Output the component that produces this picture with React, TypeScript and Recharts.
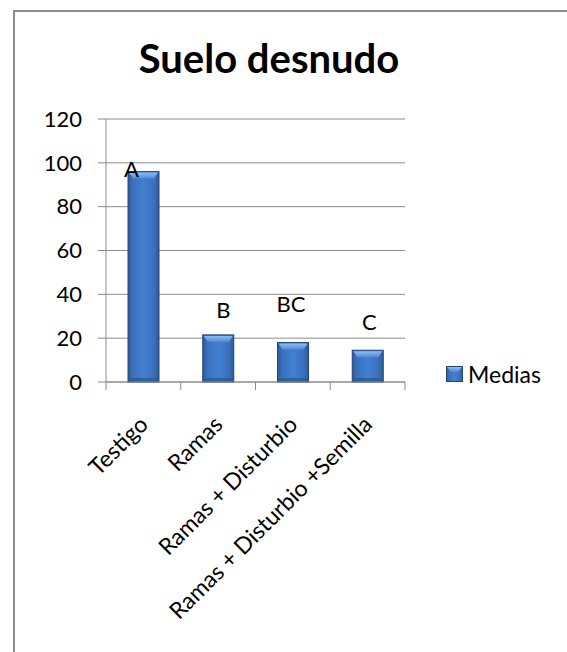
import { BarChart, Bar, XAxis, YAxis, CartesianGrid, LabelList } from "recharts"

const tratamientos = ["Testigo", "Ramas", "Ramas + Disturbio", "Ramas + Disturbio +Semilla"]
const medias = [96, 21.5, 18, 14.5]
const letras = ["A", "B", "BC", "C"]
const yTicks = [0, 20, 40, 60, 80, 100, 120]

const W = 567
const H = 652
const MARGIN = { top: 119, right: 162, bottom: 70, left: 0 }
const Y_AXIS_W = 106
const PLOT_W = W - MARGIN.left - MARGIN.right - Y_AXIS_W
const FONT = "Lato, 'Open Sans', sans-serif"
const GRAY = "#8c8c8c"

// the letters sit in loose text boxes in the original, not exactly on the bars
const LETTER_OFFSETS = [
  { dx: -12, dy: 5 },
  { dx: 5, dy: -17 },
  { dx: -2, dy: -31 },
  { dx: 1.5, dy: -20 },
]

const data = tratamientos.map((name, i) => ({
  name,
  media: medias[i],
  letra: letras[i],
}))

function BevelBar(props: any) {
  const { x, y, width, height } = props
  if (!height || height <= 0) return null
  const b = Math.min(6, height / 3)
  return (
    <g>
      <rect x={x} y={y} width={width} height={height} fill="url(#barBody)" stroke="#23467a" strokeWidth={1} />
      <polygon
        points={`${x + 1},${y + 1} ${x + width - 1},${y + 1} ${x + width - 5},${y + b + 1} ${x + 5},${y + b + 1}`}
        fill="url(#barTop)"
      />
      <rect x={x + 1} y={y + height - 4} width={width - 2} height={3} fill="#2e5a93" opacity={0.8} />
    </g>
  )
}

function CategoryTick(props: any) {
  const { x, y, payload, index } = props
  const half = PLOT_W / tratamientos.length / 2
  const tx = x + 6
  const ty = y + 44
  return (
    <g>
      <line x1={x - half} y1={y} x2={x - half} y2={y + 8} stroke={GRAY} />
      {index === tratamientos.length - 1 && (
        <line x1={x + half} y1={y} x2={x + half} y2={y + 8} stroke={GRAY} />
      )}
      <text
        x={tx}
        y={ty}
        transform={`rotate(-45 ${tx} ${ty})`}
        textAnchor="end"
        fontSize={23}
        fontFamily={FONT}
        fill="#000"
      >
        {payload.value}
      </text>
    </g>
  )
}

function LetterLabel(props: any) {
  const { x, y, width, index, value } = props
  const off = LETTER_OFFSETS[index] || { dx: 0, dy: -6 }
  return (
    <text
      x={x + width / 2 + off.dx}
      y={y + off.dy}
      textAnchor="middle"
      fontSize={22}
      fontFamily={FONT}
      fill="#000"
    >
      {value}
    </text>
  )
}

function LegendBox() {
  return (
    <div
      style={{
        position: "absolute",
        left: 446,
        top: 360,
        display: "flex",
        alignItems: "center",
        fontFamily: FONT,
        fontSize: 23,
        color: "#000",
      }}
    >
      <svg width={17} height={16} style={{ marginRight: 5 }}>
        <rect x={0.5} y={0.5} width={16} height={15} fill="url(#barBody)" stroke="#23467a" />
        <polygon points="1,1 16,1 12,6 5,6" fill="url(#barTop)" />
      </svg>
      <span>Medias</span>
    </div>
  )
}

export default function App() {
  return (
    <div
      style={{
        position: "absolute",
        left: 0,
        top: 0,
        width: W,
        height: H,
        overflow: "hidden",
        background: "#fff",
      }}
    >
      <div
        style={{
          position: "absolute",
          left: 13,
          top: 10,
          width: 700,
          height: 800,
          borderLeft: `2px solid ${GRAY}`,
          borderTop: `2px solid ${GRAY}`,
        }}
      />
      <svg width={W} height={110} style={{ position: "absolute", left: 0, top: 0 }}>
        <text x={269} y={73} textAnchor="middle" fontSize={40} fontWeight="bold" fontFamily={FONT} fill="#000">
          Suelo desnudo
        </text>
      </svg>
      <div style={{ position: "absolute", left: 0, top: 0 }}>
        <BarChart width={W} height={H} data={data} margin={MARGIN} barSize={31}>
          <defs>
            <linearGradient id="barBody" x1="0" y1="0" x2="1" y2="0">
              <stop offset="0%" stopColor="#2d5a96" />
              <stop offset="15%" stopColor="#3a70bb" />
              <stop offset="50%" stopColor="#4280d2" />
              <stop offset="85%" stopColor="#3a70bb" />
              <stop offset="100%" stopColor="#2d5a96" />
            </linearGradient>
            <linearGradient id="barTop" x1="0" y1="0" x2="0" y2="1">
              <stop offset="0%" stopColor="#8cbcf4" />
              <stop offset="100%" stopColor="#4f8ad8" />
            </linearGradient>
          </defs>
          <CartesianGrid vertical={false} stroke={GRAY} />
          <XAxis
            dataKey="name"
            interval={0}
            height={200}
            tickLine={false}
            tickSize={0}
            tickMargin={0}
            axisLine={{ stroke: GRAY }}
            tick={<CategoryTick />}
          />
          <YAxis
            width={Y_AXIS_W}
            domain={[0, 120]}
            ticks={yTicks}
            interval={0}
            tickSize={8}
            tickMargin={16}
            axisLine={{ stroke: GRAY }}
            tickLine={{ stroke: GRAY }}
            tick={{ fontSize: 22, fontFamily: FONT, fill: "#000" }}
          />
          <Bar dataKey="media" name="Medias" shape={<BevelBar />} isAnimationActive={false}>
            <LabelList dataKey="letra" content={<LetterLabel />} />
          </Bar>
        </BarChart>
      </div>
      <LegendBox />
    </div>
  )
}
